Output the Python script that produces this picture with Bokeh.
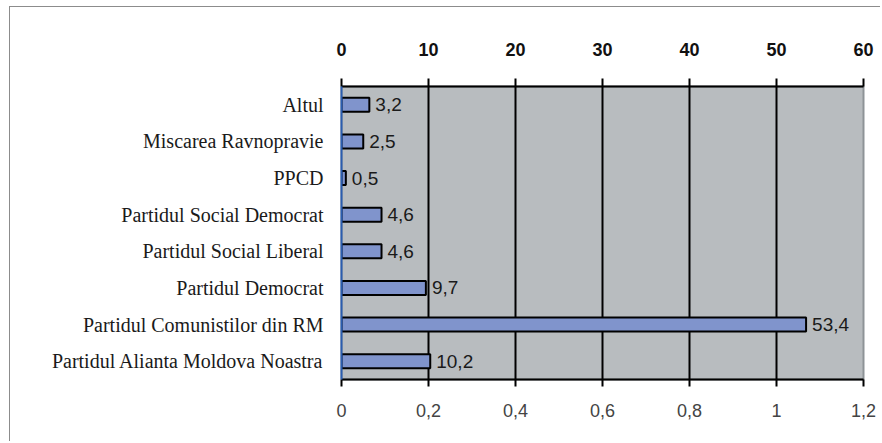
from bokeh.plotting import figure
from bokeh.models import Range1d, FactorRange, LinearAxis, FixedTicker, ColumnDataSource, LabelSet
from bokeh.core.properties import value
from bokeh.embed import file_html
from bokeh.resources import INLINE

categories = ["Altul", "Miscarea Ravnopravie", "PPCD", "Partidul Social Democrat",
              "Partidul Social Liberal", "Partidul Democrat",
              "Partidul Comunistilor din RM", "Partidul Alianta Moldova Noastra"]
values = [3.2, 2.5, 0.5, 4.6, 4.6, 9.7, 53.4, 10.2]
value_labels = ["3,2", "2,5", "0,5", "4,6", "4,6", "9,7", "53,4", "10,2"]
top_ticks = [0, 10, 20, 30, 40, 50, 60]
bottom_ticks = [0, 0.2, 0.4, 0.6, 0.8, 1.0, 1.2]
bottom_tick_labels = ["0", "0,2", "0,4", "0,6", "0,8", "1", "1,2"]

src = ColumnDataSource(dict(cat=categories, val=values, lbl=value_labels))

p = figure(width=871, height=435,
           y_range=FactorRange(factors=list(reversed(categories))),
           x_range=Range1d(top_ticks[0], top_ticks[-1]),
           x_axis_location="above",
           output_backend="svg", toolbar_location=None,
           min_border_left=331, min_border_right=18,
           min_border_top=79, min_border_bottom=63)
p.styles = {"margin-left": "9px", "margin-top": "6px",
            "border-top": "1px solid #8c8c8c", "border-left": "1px solid #8c8c8c"}

p.background_fill_color = "#B8BCBF"
p.border_fill_color = "white"
p.outline_line_color = "#8E9397"
p.outline_line_width = 2

p.hbar(y="cat", right="val", left=0, height=0.38, source=src,
       fill_color="#8094CC", line_color="black", line_width=2)

labels = LabelSet(x="val", y="cat", text="lbl", source=src, x_offset=6,
                  text_baseline="middle", text_align="left",
                  text_font=value("Liberation Sans"), text_font_size="19px",
                  text_color="#1a1a1a")
p.add_layout(labels)

# grid
p.ygrid.grid_line_color = None
p.xgrid.ticker = FixedTicker(ticks=top_ticks[1:-1])
p.xgrid.grid_line_color = "black"
p.xgrid.grid_line_width = 2
p.xgrid.grid_line_alpha = 1

# top axis
xa = p.xaxis[0]
xa.ticker = FixedTicker(ticks=top_ticks)
xa.major_label_text_font = "Liberation Sans"
xa.major_label_text_font_style = "bold"
xa.major_label_text_font_size = "18px"
xa.major_label_text_color = "#111111"
xa.major_tick_out = 8
xa.major_tick_in = 0
xa.major_tick_line_width = 2
xa.major_tick_line_color = "black"
xa.minor_tick_line_color = None
xa.axis_line_width = 2
xa.axis_line_color = "black"
xa.major_label_standoff = 23

# left axis
ya = p.yaxis[0]
ya.axis_line_color = "#2A5DB0"
ya.axis_line_width = 2
ya.major_tick_line_color = None
ya.minor_tick_line_color = None
ya.major_label_text_font = "Liberation Serif"
ya.major_label_text_font_size = "20px"
ya.major_label_text_color = "#1a1a1a"
ya.major_label_standoff = 12

# bottom secondary axis
p.extra_x_ranges = {"sec": Range1d(bottom_ticks[0], bottom_ticks[-1])}
ax2 = LinearAxis(x_range_name="sec", ticker=FixedTicker(ticks=bottom_ticks),
                 major_label_overrides=dict(zip(bottom_ticks, bottom_tick_labels)))
ax2.major_label_text_font = "Liberation Sans"
ax2.major_label_text_font_size = "18px"
ax2.major_label_text_color = "#444444"
ax2.major_tick_out = 7
ax2.major_tick_in = 0
ax2.major_tick_line_width = 2
ax2.minor_tick_line_color = None
ax2.axis_line_width = 2
ax2.axis_line_color = "black"
ax2.major_label_standoff = 17
p.add_layout(ax2, "below")

open("out.html", "w").write(file_html(p, INLINE))
